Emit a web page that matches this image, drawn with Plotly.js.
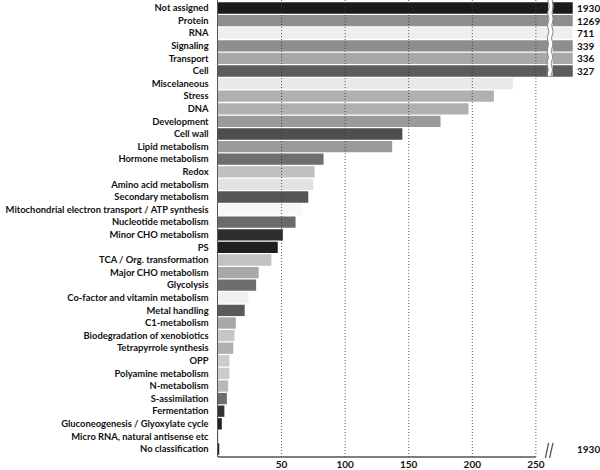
<!DOCTYPE html>
<html>
<head>
<meta charset="utf-8">
<script src="https://cdn.plot.ly/plotly-3.0.1.min.js"></script>
<style>html,body{margin:0;padding:0;background:#fff}#chart{width:600px;height:470px}</style>
</head>
<body>
<div id="chart"></div>
<script>
const categories = [
  'Not assigned','Protein','RNA','Signaling','Transport','Cell','Miscelaneous','Stress','DNA',
  'Development','Cell wall','Lipid metabolism','Hormone metabolism','Redox','Amino acid metabolism',
  'Secondary metabolism','Mitochondrial electron transport / ATP synthesis','Nucleotide metabolism',
  'Minor CHO metabolism','PS','TCA / Org. transformation','Major CHO metabolism','Glycolysis',
  'Co-factor and vitamin metabolism','Metal handling','C1-metabolism','Biodegradation of xenobiotics',
  'Tetrapyrrole synthesis','OPP','Polyamine metabolism','N-metabolism','S-assimilation','Fermentation',
  'Gluconeogenesis / Glyoxylate cycle','Micro RNA, natural antisense etc','No classification'
];
const values = [1930,1269,711,339,336,327,232,217,197,175,145,137,83,76,75,71,66,61,51,47,42,32,30,24,21,14,13,12,9,9,8,7,5,3,0.5,1];
const colors = ['#1b1b1b','#8e8e8e','#eeeeee','#8e8e8e','#a8a8a8','#5c5c5c','#e9e9e9','#b0b0b0','#b0b0b0',
  '#9a9a9a','#4e4e4e','#9a9a9a','#6e6e6e','#c0c0c0','#e2e2e2','#555555','#f7f7f7','#6a6a6a','#2e2e2e',
  '#1f1f1f','#c2c2c2','#a8a8a8','#6e6e6e','#f0f0f0','#5a5a5a','#a8a8a8','#c6c6c6','#b0b0b0','#cccccc',
  '#cccccc','#b8b8b8','#6e6e6e','#333333','#222222','#dddddd','#222222'];
const rightLabels = ['1930','1269','711','339','336','327','','','','','','','','','','','','','','','','','','','','','','','','','','','','','','1930'];
const tickValues = [50,100,150,200,250];
const axisMax = 250;   // last labelled tick before the break
const capValue = 279;  // where broken bars stop being drawn

const shown = values.map(v => Math.min(v, capValue));
const nBroken = values.filter(v => v > capValue).length;
const n = categories.length;
const FONT = 'Lato, "Open Sans", sans-serif';

const shapes = [];
// dotted gridlines on top of bars
tickValues.forEach(t => shapes.push({type:'line', xref:'x', yref:'paper', x0:t, x1:t, y0:0, y1:1,
  line:{color:'rgba(50,50,50,0.8)', width:1, dash:'1px,2px'}, layer:'above'}));
// x axis line up to 250
shapes.push({type:'line', xref:'x', yref:'paper', x0:0, x1:axisMax, y0:0, y1:0, line:{color:'#555', width:1.5}, layer:'above'});
// break band across broken bars
const yTopBreak = 1, yBotBreak = 1 - nBroken / n;
shapes.push({type:'rect', xref:'x', yref:'paper', x0:259.6, x1:263.2, y0:yBotBreak, y1:yTopBreak,
  fillcolor:'#ffffff', line:{width:0}, layer:'above'});
function zig(x0){
  let p = '', steps = nBroken*2;
  for (let i=0;i<=steps;i++){
    const y = yTopBreak - (yTopBreak - yBotBreak)*i/steps;
    const x = x0 + ((i%2)?1.2:0) - i*0.08;
    p += (i===0?'M ':' L ') + x.toFixed(2) + ',' + y.toFixed(4);
  }
  return p;
}
shapes.push({type:'path', xref:'x', yref:'paper', path:zig(259.4), line:{color:'#888', width:1}, layer:'above'});
shapes.push({type:'path', xref:'x', yref:'paper', path:zig(262.8), line:{color:'#888', width:1}, layer:'above'});
// bottom axis break marks
shapes.push({type:'line', xref:'x', yref:'paper', x0:257.5, x1:260, y0:-0.002, y1:0.031, line:{color:'#555', width:1.3}});
shapes.push({type:'line', xref:'x', yref:'paper', x0:260.8, x1:263.5, y0:-0.002, y1:0.031, line:{color:'#555', width:1.3}});

const annotations = categories.map((c,i) => rightLabels[i] ? {
  x:1, xref:'paper', xanchor:'left', xshift:1, y:c, yref:'y', yanchor:'middle',
  text:rightLabels[i], showarrow:false,
  font:{family:FONT, size:10, color:'#111', weight:'bold'}
} : null).filter(a => a);

const trace = {
  type:'bar', orientation:'h', y:categories, x:shown,
  marker:{color:colors, line:{width:0}},
  hoverinfo:'none'
};
const layout = {
  width:600, height:470,
  margin:{l:218, r:26, t:0, b:13, pad:0},
  paper_bgcolor:'#fff', plot_bgcolor:'#fff',
  bargap:0.1,
  showlegend:false,
  font:{family:FONT, size:10, color:'#111', weight:'bold'},
  xaxis:{range:[0,280], tickvals:tickValues, ticktext:tickValues.map(String), showgrid:false,
    zeroline:false, showline:false, ticks:'', ticklabelstandoff:0,
    tickfont:{family:FONT, size:10, color:'#111', weight:'bold'}},
  yaxis:{type:'category', categoryorder:'array', categoryarray:categories, autorange:'reversed',
    showgrid:false, zeroline:false, showline:true, linecolor:'#555', linewidth:1.5, ticks:'',
    ticklabelstandoff:6,
    tickfont:{family:FONT, size:9.4, color:'#111', weight:'bold'}},
  shapes:shapes,
  annotations:annotations
};
Plotly.newPlot('chart', [trace], layout, {displayModeBar:false, staticPlot:true});
</script>
</body>
</html>
